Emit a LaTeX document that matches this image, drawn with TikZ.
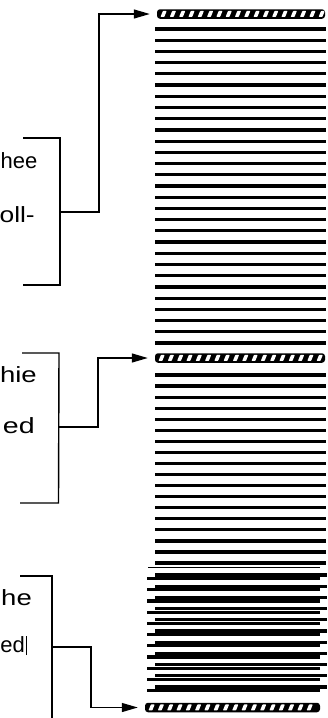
\documentclass[tikz,border=0pt]{standalone}
\usepackage{fontspec}
\setmainfont{Liberation Sans}
\usetikzlibrary{arrows.meta}
\newcommand\lblw[2]{\scalebox{#1}[1]{#2}}
\begin{document}
\begin{tikzpicture}[x=1pt,y=-1pt,
  lbl/.style={font=\fontsize{22}{24}\selectfont, anchor=base east, inner sep=0pt},
  brk/.style={line width=1.4pt},
  conn/.style={line width=1.3pt, -{Triangle[length=16pt,width=9pt]}, shorten >=7pt},
  rulebar/.style={line width=3.2pt},
  hbar/.style={fill=black, rounded corners=3pt, inner sep=0pt,
    minimum height=9.5pt, minimum width=#1,
    path picture={
      \foreach \i in {0,...,17}{
        \fill[white, rounded corners=0.6pt] ([xshift={3.5pt+\i*9.3pt}, yshift=1.8pt]path picture bounding box.south west)
          -- ++(3.8pt,0pt) -- ++(2.4pt,6pt) -- ++(-3.8pt,0pt) -- cycle;
      }}}
]
\useasboundingbox (0,0) rectangle (327,718);
\clip (0,0) rectangle (327,718);

% hatched bars
\node[hbar=168pt] (bar1) at (241,14) {};
\node[hbar=170pt] (bar2) at (240,358) {};
\node[hbar=175pt] (bar3) at (232.5,707.5) {};

% stack of layers
\foreach \k in {0,...,28}
  \draw[rulebar] (155,{29+\k*11.214}) -- (326,{29+\k*11.214});
\foreach \k in {0,...,17}
  \draw[rulebar] (155,{375+\k*11.06}) -- (326,{375+\k*11.06});
\draw[line width=0.8pt] (148,567.5) -- (320,567.5);
\foreach \k in {0,...,10}{
  \draw[rulebar] (155,{575+\k*11.2}) -- (327,{575+\k*11.2});
  \draw[rulebar] (147,{578.5+\k*11.2}) -- (320,{578.5+\k*11.2});
}

% labels
\node[lbl] (t1a) at (37.5,168) {hee};
\node[lbl] (t1b) at (35,222) {\lblw{1.2}{oll-}};
\node[lbl] (t2a) at (37,382) {\lblw{1.25}{hie}};
\node[lbl] (t2b) at (35,433) {\lblw{1.3}{ed}};
\node[lbl] (t3a) at (32,605) {\lblw{1.25}{he}};
\node[lbl] (t3b) at (27,652) {ed\kern1pt\rule[-3pt]{0.9pt}{19pt}};

% brackets
\draw[brk] (23,138) -- (60,138) -- (60,285) -- (23,285);
\draw[brk] (22,353) -- (59,353) -- (58.5,503) -- (20,503);
\draw[brk] (20,576) -- (52,576) -- (52,720);
\coordinate (k1) at (60,212);
\coordinate (k2) at (58.7,427);
\coordinate (k3) at (52,647);

% connectors
\draw[conn] (k1) -- (99,212) |- (bar1.west);
\draw[conn] (k2) -- (98,427) |- (bar2.west);
\draw[conn] (k3) -- (91,647) |- (bar3.west);
\end{tikzpicture}
\end{document}
